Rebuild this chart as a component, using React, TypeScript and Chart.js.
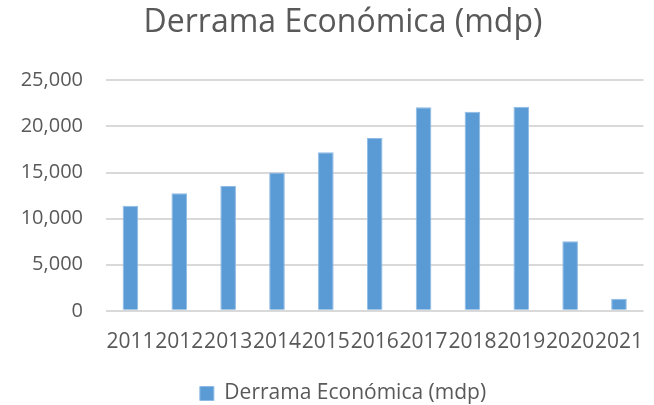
import React, { useEffect, useRef } from "react";
import { Chart, registerables } from "chart.js";

Chart.register(...registerables);

const categories = ["2011", "2012", "2013", "2014", "2015", "2016", "2017", "2018", "2019", "2020", "2021"];
const derramaValues = [11400, 12750, 13550, 15000, 17200, 18750, 22100, 21600, 22150, 7550, 1300];
const seriesLabel = "Derrama Económica (mdp)";
const titleText = "Derrama Económica (mdp)";

const FONT = "'Open Sans', sans-serif";
const TEXT = "#595959";

export default function App() {
  const ref = useRef<HTMLCanvasElement | null>(null);

  useEffect(() => {
    document.body.style.margin = "0";
    const canvas = ref.current;
    if (!canvas) return;
    const chart = new Chart(canvas, {
      type: "bar",
      data: {
        labels: categories,
        datasets: [
          {
            label: seriesLabel,
            data: derramaValues,
            backgroundColor: "#5B9BD5",
            borderColor: "#8fbbe6",
            borderWidth: 1,
            barPercentage: 0.32,
            categoryPercentage: 1,
          },
        ],
      },
      options: {
        responsive: false,
        animation: false,
        devicePixelRatio: 1,
        layout: { padding: { left: 32, right: 0, top: 0, bottom: -9 } },
        plugins: {
          title: {
            display: true,
            text: titleText,
            color: TEXT,
            font: { family: FONT, size: 32, weight: "normal" },
            padding: { top: 4, bottom: 38 },
          },
          legend: {
            position: "bottom",
            labels: {
              color: TEXT,
              font: { family: FONT, size: 21 },
              boxWidth: 14,
              boxHeight: 14,
              padding: 3,
            },
          },
          tooltip: { enabled: false },
        },
        scales: {
          x: {
            afterFit: (scale: any) => {
              scale.height = scale.height + 14;
            },
            grid: { display: false },
            border: { display: false },
            ticks: {
              color: TEXT,
              font: { family: FONT, size: 21 },
              autoSkip: false,
              maxRotation: 0,
              minRotation: 0,
              padding: 11,
            },
          },
          y: {
            min: 0,
            max: 25000,
            afterFit: (scale: any) => {
              scale.width = 74;
              scale._computeLabelArea = () => undefined;
            },
            grid: { color: "#d9d9d9", lineWidth: 2, drawTicks: false },
            border: { display: false },
            ticks: {
              stepSize: 5000,
              color: TEXT,
              font: { family: FONT, size: 20 },
              padding: 23,
              callback: (v: any) => Number(v).toLocaleString("en-US"),
            },
          },
        },
      },
    });
    return () => chart.destroy();
  }, []);

  return (
    <div style={{ width: 654, height: 405 }}>
      <canvas ref={ref} width={654} height={405} />
    </div>
  );
}
